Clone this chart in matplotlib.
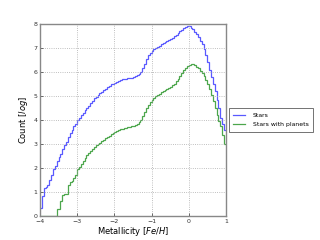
import numpy as np
import matplotlib
matplotlib.use("Agg")
import matplotlib.pyplot as plt

edges = np.round(np.arange(-4.0, 1.0001, 0.05), 2)

stars = [0.32, 0.85, 1.15, 1.2, 1.3, 1.5, 1.7, 1.95, 2.1, 2.3,
         2.45, 2.6, 2.8, 2.95, 3.1, 3.3, 3.45, 3.6, 3.75, 3.85,
         4.0, 4.1, 4.2, 4.3, 4.4, 4.5, 4.6, 4.7, 4.8, 4.9,
         4.97, 5.05, 5.12, 5.18, 5.25, 5.3, 5.37, 5.42, 5.48, 5.52,
         5.56, 5.6, 5.63, 5.66, 5.69, 5.71, 5.72, 5.73, 5.74, 5.77,
         5.8, 5.84, 5.87, 5.92, 6.0, 6.15, 6.35, 6.55, 6.7, 6.8,
         6.88, 6.95, 7.0, 7.05, 7.1, 7.15, 7.2, 7.25, 7.28, 7.32,
         7.36, 7.42, 7.48, 7.55, 7.62, 7.7, 7.76, 7.82, 7.87, 7.9,
         7.92, 7.85, 7.78, 7.68, 7.6, 7.45, 7.3, 7.15, 6.95, 6.7,
         6.4, 6.1, 5.8, 5.5, 5.2, 4.85, 4.5, 4.1, 3.85, 3.6]

planets = [0, 0, 0, 0, 0, 0, 0, 0, 0, 0.3,
           0.3, 0.62, 0.87, 0.9, 0.92, 1.3, 1.4, 1.45, 1.57, 1.7,
           1.95, 2.05, 2.15, 2.3, 2.4, 2.55, 2.62, 2.7, 2.8, 2.87,
           2.95, 3.0, 3.06, 3.12, 3.18, 3.25, 3.3, 3.35, 3.42, 3.47,
           3.52, 3.55, 3.58, 3.61, 3.63, 3.65, 3.67, 3.69, 3.71, 3.74,
           3.77, 3.81, 3.85, 3.92, 4.02, 4.15, 4.35, 4.5, 4.62, 4.75,
           4.85, 4.92, 4.98, 5.05, 5.1, 5.15, 5.2, 5.25, 5.3, 5.35,
           5.38, 5.45, 5.52, 5.62, 5.72, 5.85, 5.97, 6.08, 6.17, 6.25,
           6.3, 6.32, 6.32, 6.28, 6.22, 6.15, 6.05, 5.95, 5.82, 5.68,
           5.5, 5.3, 5.05, 4.78, 4.5, 4.2, 3.95, 3.75, 3.37, 3.0]

labels = ["Stars", "Stars with planets"]

fig = plt.figure(figsize=(3.2, 2.4), dpi=100)
ax = fig.add_axes([0.125, 0.1, 0.581, 0.8])
ax.stairs(stars, edges, baseline=None, color="#0000ff", alpha=0.65, lw=0.9, label=labels[0])
ax.stairs(planets, edges, baseline=None, color="#008000", alpha=0.7, lw=0.9, label=labels[1])

ax.set_xlim(-4, 1)
ax.set_ylim(0, 8)
ax.set_xticks(range(-4, 2))
ax.set_yticks(range(0, 9))
ax.grid(True, color="#aaaaaa", linestyle=":", linewidth=0.6)
ax.tick_params(direction="in", labelsize=4.5, length=2, width=0.5, pad=2, colors="#333333")
for s in ax.spines.values():
    s.set_color("#888888")
    s.set_linewidth(1.0)
ax.set_xlabel("Metallicity $[Fe/H]$", fontsize=6, labelpad=1)
ax.set_ylabel("Count $[log]$", fontsize=6, labelpad=2)

leg = ax.legend(loc="center left", bbox_to_anchor=(1.005, 0.5), fontsize=4.4,
                frameon=True, fancybox=False, borderpad=0.7, labelspacing=0.7,
                handlelength=1.9, handletextpad=1.3, borderaxespad=0.3)
leg.get_frame().set_edgecolor("#333333")
leg.get_frame().set_linewidth(0.6)

fig.savefig("out.png", dpi=100)
